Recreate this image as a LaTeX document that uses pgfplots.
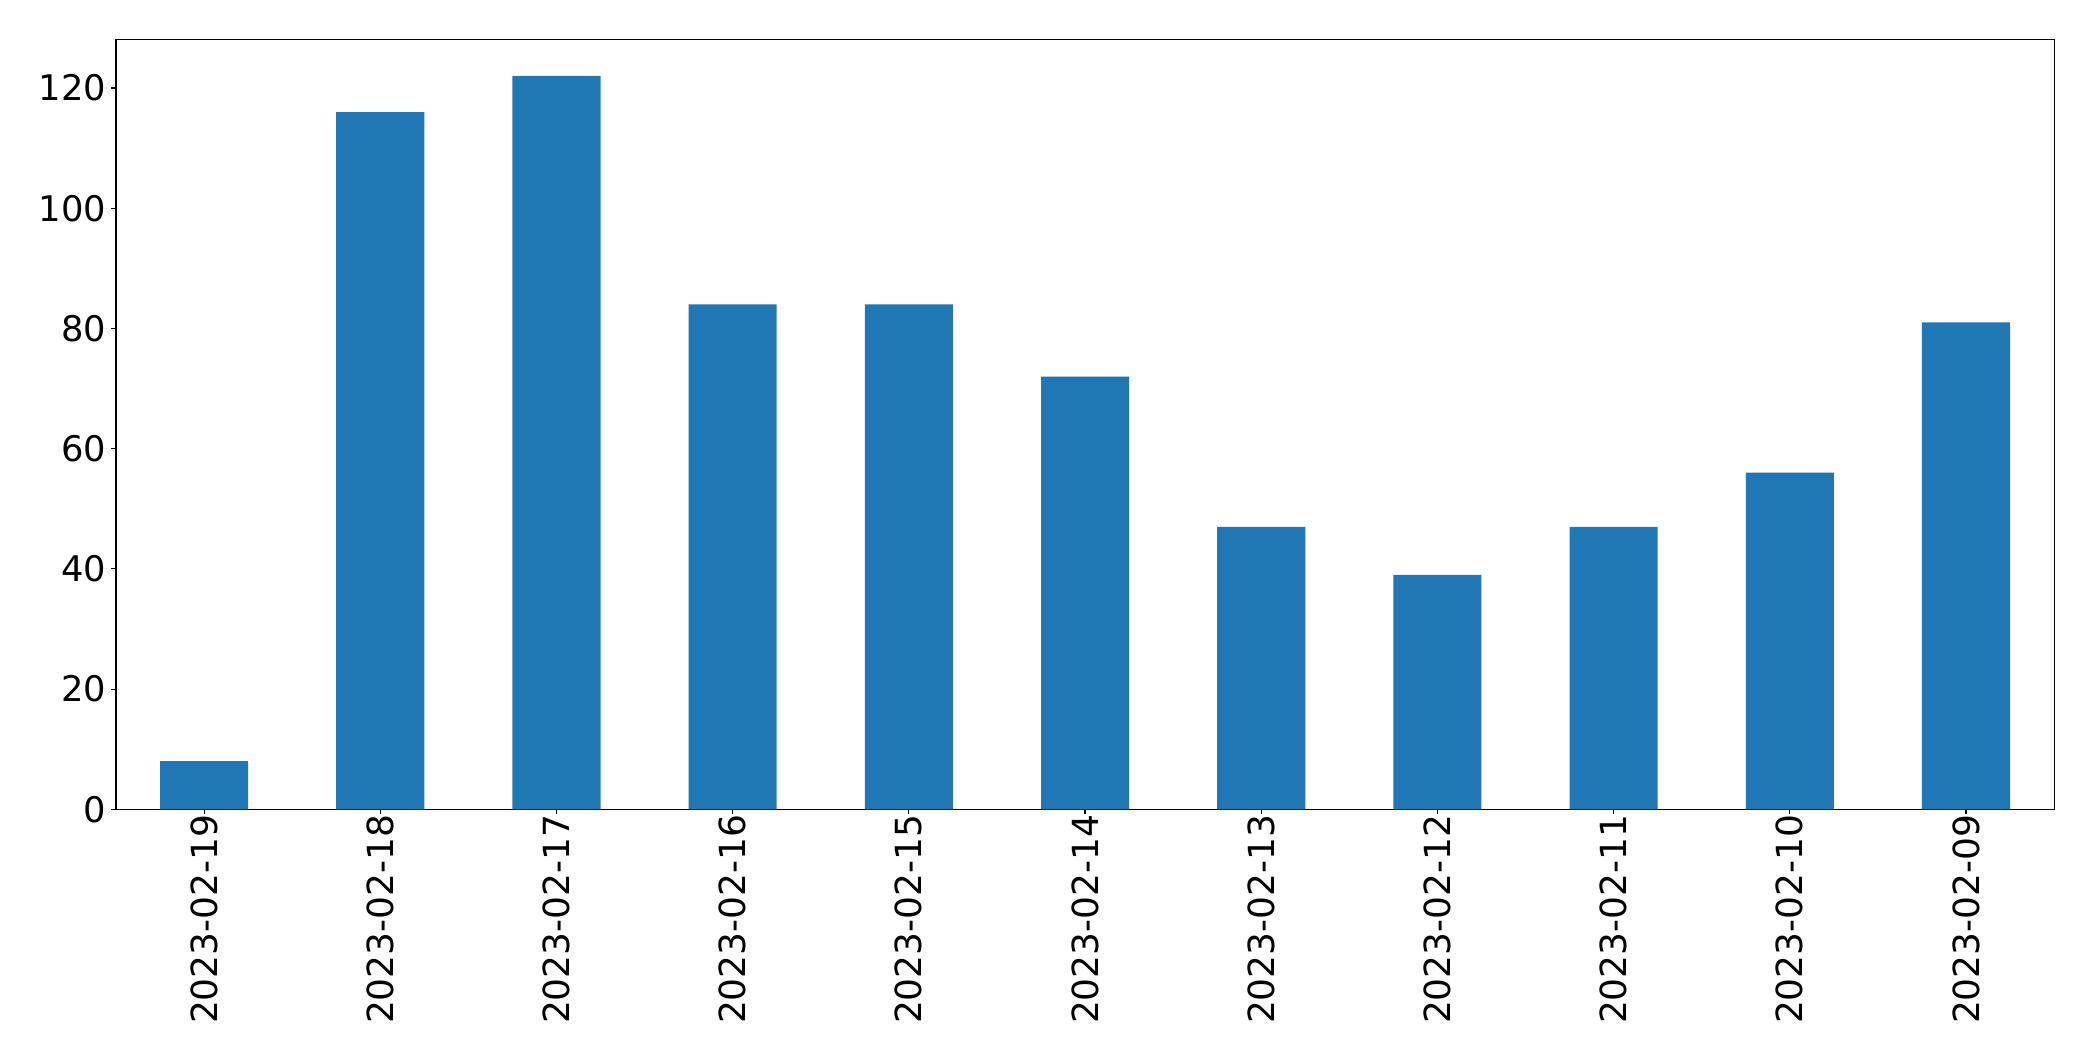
\documentclass[border=0pt]{standalone}
\usepackage{pgfplots}
\pgfplotsset{compat=1.18}
\usepackage{fontspec}
\setmainfont{DejaVu Sans}
\definecolor{barblue}{HTML}{1F77B4}
\begin{document}
\begin{tikzpicture}
\path[use as bounding box] (0bp,0bp) rectangle (1507bp,763.9bp);
\begin{axis}[at={(83.5bp,181.2bp)}, anchor=south west, scale only axis,
  width=1395.5bp, height=554.4bp,
  xmin=-0.5, xmax=10.5, ymin=0, ymax=128.1,
  xtick={0,...,10},
  xticklabels={2023-02-19,2023-02-18,2023-02-17,2023-02-16,2023-02-15,2023-02-14,2023-02-13,2023-02-12,2023-02-11,2023-02-10,2023-02-09},
  ytick={0,20,...,120},
  tick align=outside, tick pos=left, major tick length=3.5bp,
  tick style={line width=0.8bp, black},
  axis line style={line width=0.8bp},
  tick label style={font=\fontsize{25.5}{30}\selectfont},
  x tick label style={rotate=90, anchor=east, font=\fontsize{26}{30}\selectfont},
  xticklabel shift={-3bp},
  /pgf/number format/assume math mode=true,
  clip=false,
]
\addplot[ybar, bar width=0.5, fill=barblue, draw=none] coordinates {
(0,8) (1,116) (2,122) (3,84) (4,84) (5,72) (6,47) (7,39) (8,47) (9,56) (10,81)
};
\end{axis}
\end{tikzpicture}
\end{document}
